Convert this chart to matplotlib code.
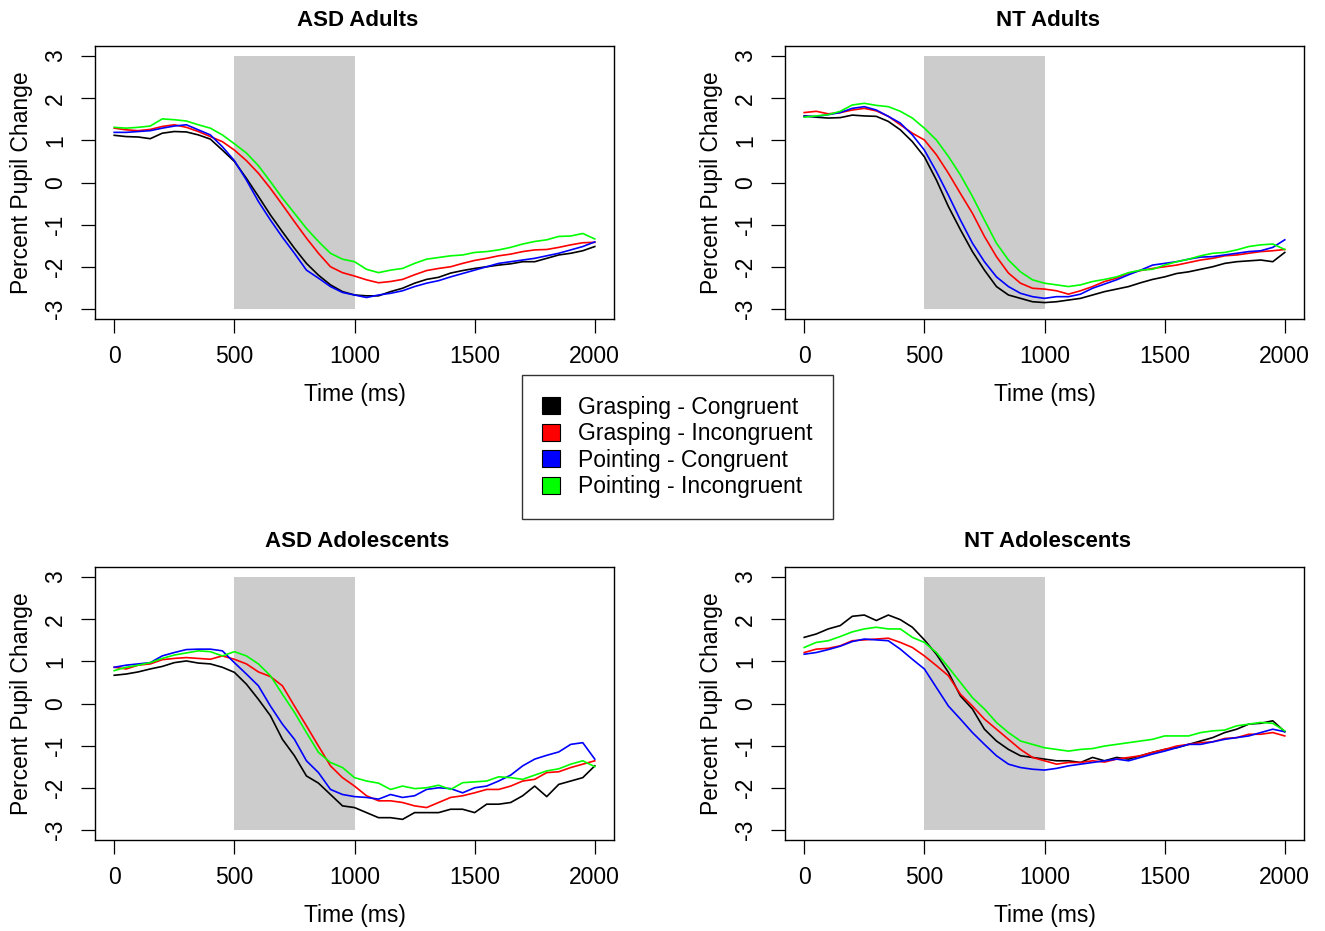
"""Pupil response over time per condition, four groups in a 2x2 grid (R base-graphics look)."""

import matplotlib
matplotlib.use("Agg")
import matplotlib.pyplot as plt
from matplotlib.patches import Patch, Rectangle

plt.rcParams["font.family"] = ["Liberation Sans", "DejaVu Sans"]
plt.rcParams["axes.unicode_minus"] = False

# time axis, 50 ms steps
time_ms = list(range(0, 2001, 50))

conditions = ["Grasping - Congruent", "Grasping - Incongruent",
              "Pointing - Congruent", "Pointing - Incongruent"]
colors = ["#000000", "#FF0000", "#0000FF", "#00FF00"]

# stimulus window shaded in every panel
shade_start, shade_end = 500, 1000
shade_low, shade_high = -3, 3

# ---- ASD Adults ----
asd_adult_gc = [1.12, 1.09, 1.08, 1.04, 1.17, 1.21, 1.20, 1.13, 1.03, 0.77, 0.50, 0.10,
                -0.33, -0.77, -1.17, -1.56, -1.92, -2.20, -2.43, -2.59, -2.67, -2.69,
                -2.69, -2.59, -2.51, -2.39, -2.30, -2.25, -2.15, -2.09, -2.04, -2.00,
                -1.96, -1.93, -1.88, -1.88, -1.80, -1.72, -1.68, -1.62, -1.52]
asd_adult_gi = [1.29, 1.25, 1.23, 1.26, 1.33, 1.37, 1.31, 1.21, 1.09, 0.97, 0.77, 0.52,
                0.22, -0.14, -0.53, -0.93, -1.32, -1.68, -2.00, -2.14, -2.22, -2.31,
                -2.38, -2.35, -2.30, -2.19, -2.09, -2.04, -2.00, -1.92, -1.85, -1.80,
                -1.74, -1.70, -1.64, -1.60, -1.59, -1.54, -1.48, -1.43, -1.42]
asd_adult_pc = [1.19, 1.19, 1.21, 1.23, 1.29, 1.34, 1.37, 1.25, 1.13, 0.85, 0.52, 0.06,
                -0.45, -0.89, -1.30, -1.68, -2.08, -2.27, -2.47, -2.61, -2.67, -2.73,
                -2.67, -2.63, -2.57, -2.47, -2.39, -2.33, -2.24, -2.16, -2.08, -2.00,
                -1.92, -1.88, -1.84, -1.80, -1.74, -1.68, -1.60, -1.52, -1.41]
asd_adult_pi = [1.31, 1.29, 1.31, 1.34, 1.51, 1.49, 1.46, 1.37, 1.29, 1.13, 0.92, 0.70,
                0.40, 0.02, -0.37, -0.73, -1.09, -1.40, -1.68, -1.82, -1.88, -2.06,
                -2.14, -2.08, -2.04, -1.92, -1.82, -1.78, -1.74, -1.72, -1.66, -1.64,
                -1.60, -1.54, -1.46, -1.40, -1.36, -1.28, -1.27, -1.21, -1.34]

# ---- NT Adults ----
nt_adult_gc = [1.58, 1.55, 1.53, 1.54, 1.60, 1.58, 1.57, 1.45, 1.25, 0.97, 0.61, 0.06,
               -0.57, -1.12, -1.64, -2.08, -2.47, -2.67, -2.75, -2.83, -2.85, -2.83,
               -2.79, -2.75, -2.67, -2.59, -2.53, -2.47, -2.38, -2.30, -2.24, -2.16,
               -2.12, -2.06, -2.00, -1.92, -1.88, -1.86, -1.84, -1.88, -1.66]
nt_adult_gi = [1.66, 1.69, 1.63, 1.66, 1.72, 1.76, 1.70, 1.57, 1.37, 1.17, 1.01, 0.66,
               0.22, -0.26, -0.73, -1.28, -1.76, -2.15, -2.39, -2.51, -2.53, -2.57,
               -2.65, -2.57, -2.47, -2.35, -2.27, -2.15, -2.09, -2.04, -2.00, -1.96,
               -1.90, -1.84, -1.80, -1.74, -1.72, -1.68, -1.64, -1.62, -1.59]
nt_adult_pc = [1.57, 1.57, 1.61, 1.66, 1.76, 1.80, 1.72, 1.57, 1.41, 1.13, 0.77, 0.26,
               -0.30, -0.89, -1.44, -1.88, -2.24, -2.47, -2.63, -2.71, -2.75, -2.71,
               -2.71, -2.65, -2.51, -2.41, -2.31, -2.19, -2.08, -1.96, -1.92, -1.88,
               -1.82, -1.77, -1.76, -1.72, -1.68, -1.64, -1.62, -1.54, -1.36]
nt_adult_pi = [1.55, 1.58, 1.61, 1.69, 1.84, 1.88, 1.83, 1.80, 1.69, 1.53, 1.29, 1.01,
               0.62, 0.18, -0.33, -0.89, -1.44, -1.84, -2.12, -2.31, -2.39, -2.43,
               -2.47, -2.43, -2.35, -2.30, -2.24, -2.14, -2.08, -2.06, -1.96, -1.88,
               -1.82, -1.74, -1.68, -1.66, -1.60, -1.52, -1.48, -1.46, -1.59]

# ---- ASD Adolescents ----
asd_adol_gc = [0.67, 0.70, 0.75, 0.82, 0.88, 0.97, 1.01, 0.96, 0.94, 0.86, 0.74, 0.46,
               0.10, -0.29, -0.85, -1.24, -1.72, -1.89, -2.16, -2.43, -2.47, -2.59,
               -2.71, -2.71, -2.75, -2.59, -2.59, -2.59, -2.51, -2.51, -2.59, -2.39,
               -2.39, -2.35, -2.19, -1.96, -2.21, -1.92, -1.84, -1.76, -1.48]
asd_adol_gi = [0.86, 0.82, 0.91, 0.94, 1.04, 1.07, 1.09, 1.07, 1.05, 1.13, 1.05, 0.94,
               0.75, 0.64, 0.42, -0.06, -0.53, -1.01, -1.48, -1.76, -1.96, -2.19,
               -2.31, -2.31, -2.35, -2.43, -2.47, -2.35, -2.23, -2.19, -2.12, -2.04,
               -2.04, -1.96, -1.84, -1.80, -1.64, -1.62, -1.52, -1.44, -1.36]
asd_adol_pc = [0.86, 0.91, 0.94, 0.97, 1.13, 1.21, 1.28, 1.29, 1.29, 1.25, 0.97, 0.70,
               0.42, -0.06, -0.49, -0.85, -1.36, -1.64, -2.04, -2.16, -2.21, -2.23,
               -2.27, -2.16, -2.23, -2.19, -2.04, -2.00, -2.02, -2.12, -2.00, -1.96,
               -1.84, -1.70, -1.48, -1.32, -1.23, -1.15, -0.97, -0.93, -1.32]
asd_adol_pi = [0.78, 0.86, 0.91, 0.97, 1.07, 1.15, 1.20, 1.25, 1.23, 1.13, 1.23, 1.13,
               0.94, 0.66, 0.22, -0.21, -0.69, -1.16, -1.40, -1.52, -1.76, -1.84,
               -1.89, -2.04, -1.96, -2.02, -2.00, -1.94, -2.04, -1.88, -1.86, -1.84,
               -1.74, -1.76, -1.80, -1.70, -1.60, -1.55, -1.44, -1.36, -1.50]

# ---- NT Adolescents ----
nt_adol_gc = [1.57, 1.65, 1.77, 1.85, 2.07, 2.10, 1.97, 2.10, 1.99, 1.81, 1.51, 1.17,
              0.74, 0.18, -0.13, -0.61, -0.89, -1.09, -1.24, -1.28, -1.32, -1.36,
              -1.36, -1.40, -1.28, -1.36, -1.28, -1.32, -1.24, -1.16, -1.09, -1.05,
              -0.97, -0.89, -0.81, -0.69, -0.61, -0.49, -0.47, -0.41, -0.67]
nt_adol_gi = [1.21, 1.29, 1.31, 1.37, 1.49, 1.51, 1.53, 1.55, 1.45, 1.33, 1.13, 0.90,
              0.66, 0.22, -0.06, -0.37, -0.61, -0.85, -1.09, -1.28, -1.36, -1.44,
              -1.40, -1.40, -1.36, -1.39, -1.32, -1.28, -1.24, -1.16, -1.09, -1.01,
              -0.97, -0.93, -0.91, -0.83, -0.81, -0.73, -0.73, -0.69, -0.77]
nt_adol_pc = [1.17, 1.21, 1.28, 1.36, 1.47, 1.53, 1.51, 1.49, 1.29, 1.05, 0.82, 0.38,
              -0.06, -0.37, -0.69, -0.97, -1.24, -1.44, -1.52, -1.56, -1.58, -1.54,
              -1.48, -1.44, -1.40, -1.36, -1.32, -1.36, -1.28, -1.20, -1.13, -1.05,
              -0.97, -0.97, -0.91, -0.85, -0.81, -0.77, -0.69, -0.61, -0.67]
nt_adol_pi = [1.33, 1.45, 1.49, 1.59, 1.70, 1.77, 1.81, 1.77, 1.77, 1.57, 1.45, 1.21,
              0.86, 0.50, 0.14, -0.13, -0.45, -0.69, -0.89, -0.97, -1.05, -1.09,
              -1.13, -1.09, -1.07, -1.01, -0.97, -0.93, -0.89, -0.85, -0.77, -0.77,
              -0.77, -0.69, -0.65, -0.63, -0.53, -0.49, -0.45, -0.47, -0.65]

panel_titles = ["ASD Adults", "NT Adults", "ASD Adolescents", "NT Adolescents"]
panel_series = [
    [asd_adult_gc, asd_adult_gi, asd_adult_pc, asd_adult_pi],
    [nt_adult_gc, nt_adult_gi, nt_adult_pc, nt_adult_pi],
    [asd_adol_gc, asd_adol_gi, asd_adol_pc, asd_adol_pi],
    [nt_adol_gc, nt_adol_gi, nt_adol_pc, nt_adol_pi],
]

x_ticks = [0, 500, 1000, 1500, 2000]
y_ticks = [-3, -2, -1, 0, 1, 2, 3]

W, H = 1325, 931
fig = plt.figure(figsize=(W / 100, H / 100), dpi=100)

# axes boxes in pixel coordinates: (left, top, right, bottom)
boxes = [(95, 46, 614, 319), (785, 46, 1304, 319),
         (95, 567, 614, 840), (785, 567, 1304, 840)]

for (l, t, r, b), title, series in zip(boxes, panel_titles, panel_series):
    ax = fig.add_axes([l / W, 1 - b / H, (r - l) / W, (b - t) / H])
    ax.add_patch(Rectangle((shade_start, shade_low), shade_end - shade_start,
                           shade_high - shade_low, facecolor="#CCCCCC",
                           edgecolor="none", zorder=1))
    for vals, c in zip(series, colors):
        ax.plot(time_ms, vals, color=c, lw=1.2, zorder=2)

    ax.set_xlim(-80, 2080)
    ax.set_ylim(-3.24, 3.24)
    ax.set_xticks(x_ticks)
    ax.set_yticks(y_ticks)
    ax.tick_params(length=10, width=0.9, pad=9, labelsize=16.5, direction="out")
    ax.tick_params(axis="y", labelrotation=90, pad=10)
    for lab in ax.get_yticklabels():
        lab.set_va("center")
    for s in ax.spines.values():
        s.set_linewidth(1.0)

    ax.text(0.506, 1.0916, title, transform=ax.transAxes, ha="center", va="center",
            fontsize=16, fontweight="bold")
    ax.text(0.5, -0.278, "Time (ms)", transform=ax.transAxes, ha="center",
            va="center", fontsize=16.5)
    ax.text(-0.1407, 0.5, "Percent Pupil Change", transform=ax.transAxes,
            ha="center", va="center", rotation=90, fontsize=16.5)

handles = [Patch(facecolor=c, edgecolor="black", lw=0.8) for c in colors]
fig.legend(handles, conditions, loc="center", bbox_to_anchor=(677.5 / W, 1 - 447 / H),
           fontsize=16.5, frameon=True, fancybox=False, edgecolor="black",
           handlelength=0.75, handleheight=0.75, handletextpad=0.8,
           labelspacing=0.15, borderpad=0.9, borderaxespad=0)

fig.savefig("out.png", dpi=100)
